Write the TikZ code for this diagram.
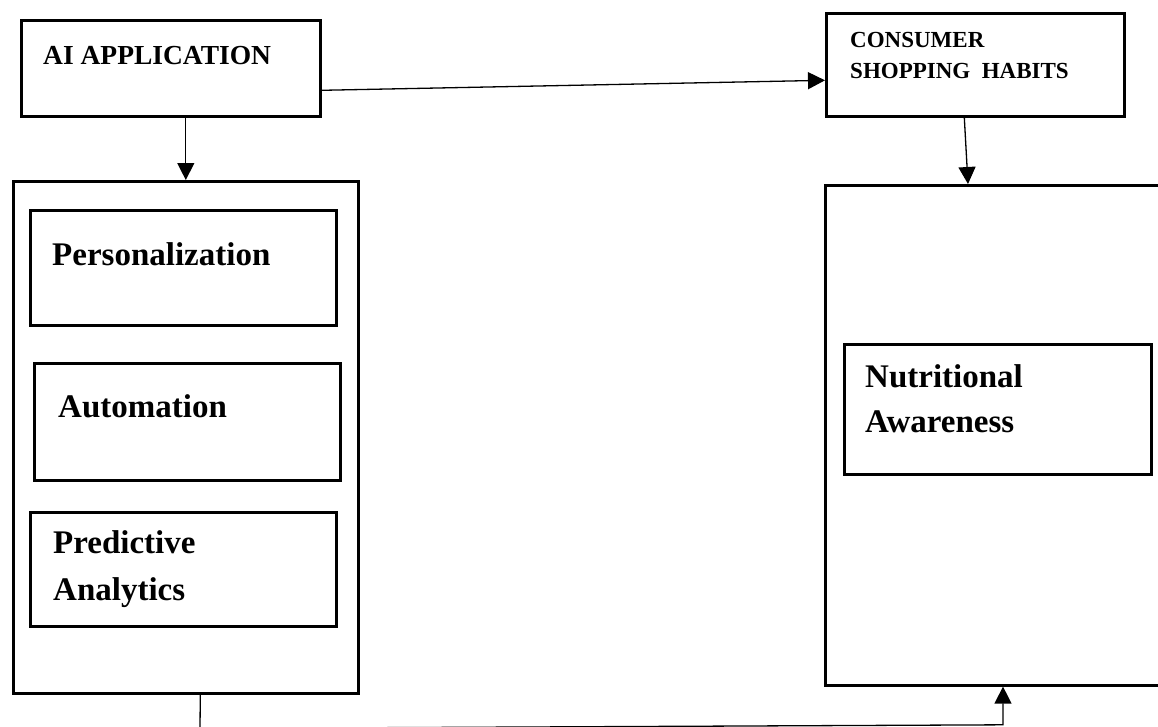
\documentclass[tikz,border=0pt]{standalone}
\usepackage{fontspec}
\setmainfont{Liberation Serif}
\usetikzlibrary{arrows.meta}
\begin{document}
\begin{tikzpicture}[x=1pt,y=-1pt,
  box/.style={draw, line width=2.6pt, rectangle, anchor=north west, inner sep=0pt},
  conn/.style={draw, line width=1.3pt, -{Triangle[length=17pt,width=17pt]}},
  lbl/.style={anchor=base west, inner sep=0pt, font=\bfseries\fontsize{33}{40}\selectfont},
  lblsmall/.style={anchor=base west, inner sep=0pt, font=\bfseries\fontsize{27.5}{32}\selectfont},
  lbltiny/.style={anchor=base west, inner sep=0pt, font=\bfseries\fontsize{23}{28}\selectfont}]
\useasboundingbox (0,0) rectangle (1158,726);
\clip (0,0) rectangle (1158,726);
\fill[white] (0,0) rectangle (1158,726);

% boxes
\node[box, minimum width=299pt, minimum height=96pt] (ai) at (20,19) {};
\node[box, minimum width=298pt, minimum height=103pt] (cons) at (825,12) {};
\node[box, minimum width=345pt, minimum height=512pt] (lbox) at (12,180) {};
\node[box, minimum width=306pt, minimum height=115pt] (pers) at (29,209) {};
\node[box, minimum width=306pt, minimum height=117pt] (auto) at (33,362) {};
\node[box, minimum width=306pt, minimum height=114pt] (pred) at (29,511) {};
\node[box, minimum width=370pt, minimum height=500pt] (rbox) at (824,184) {};
\node[box, minimum width=307pt, minimum height=130pt] (nutr) at (843,343) {};

% labels
\node[lblsmall] (tai) at (43,64) {AI APPLICATION};
\node[lbltiny] (tcons1) at (850,47) {CONSUMER};
\node[lbltiny] (tcons2) at (850,78) {SHOPPING\ \ HABITS};
\node[lbl] (tpers) at (52,265) {Personalization};
\node[lbl] (tauto) at (58,417) {Automation};
\node[lbl] (tpred1) at (53,553) {Predictive};
\node[lbl] (tpred2) at (53,600) {Analytics};
\node[lbl] (tnutr1) at (865,387) {Nutritional};
\node[lbl] (tnutr2) at (865,432) {Awareness};

% connectors
\draw[conn] ([yshift=-22pt]ai.east) -- ([yshift=-15.5pt]cons.west);
\draw[conn] (ai.south -| lbox.north) -- (lbox.north);
\draw[conn] ([xshift=-11pt]cons.south) -- ([xshift=144pt]rbox.north west);
\coordinate (b1) at (200,728.5);
\coordinate (b2) at (1003,724.8);
\draw[conn] ([xshift=14.5pt]lbox.south) -- (b1) -- (b2) -- ([xshift=179pt]rbox.south west);
\end{tikzpicture}
\end{document}
